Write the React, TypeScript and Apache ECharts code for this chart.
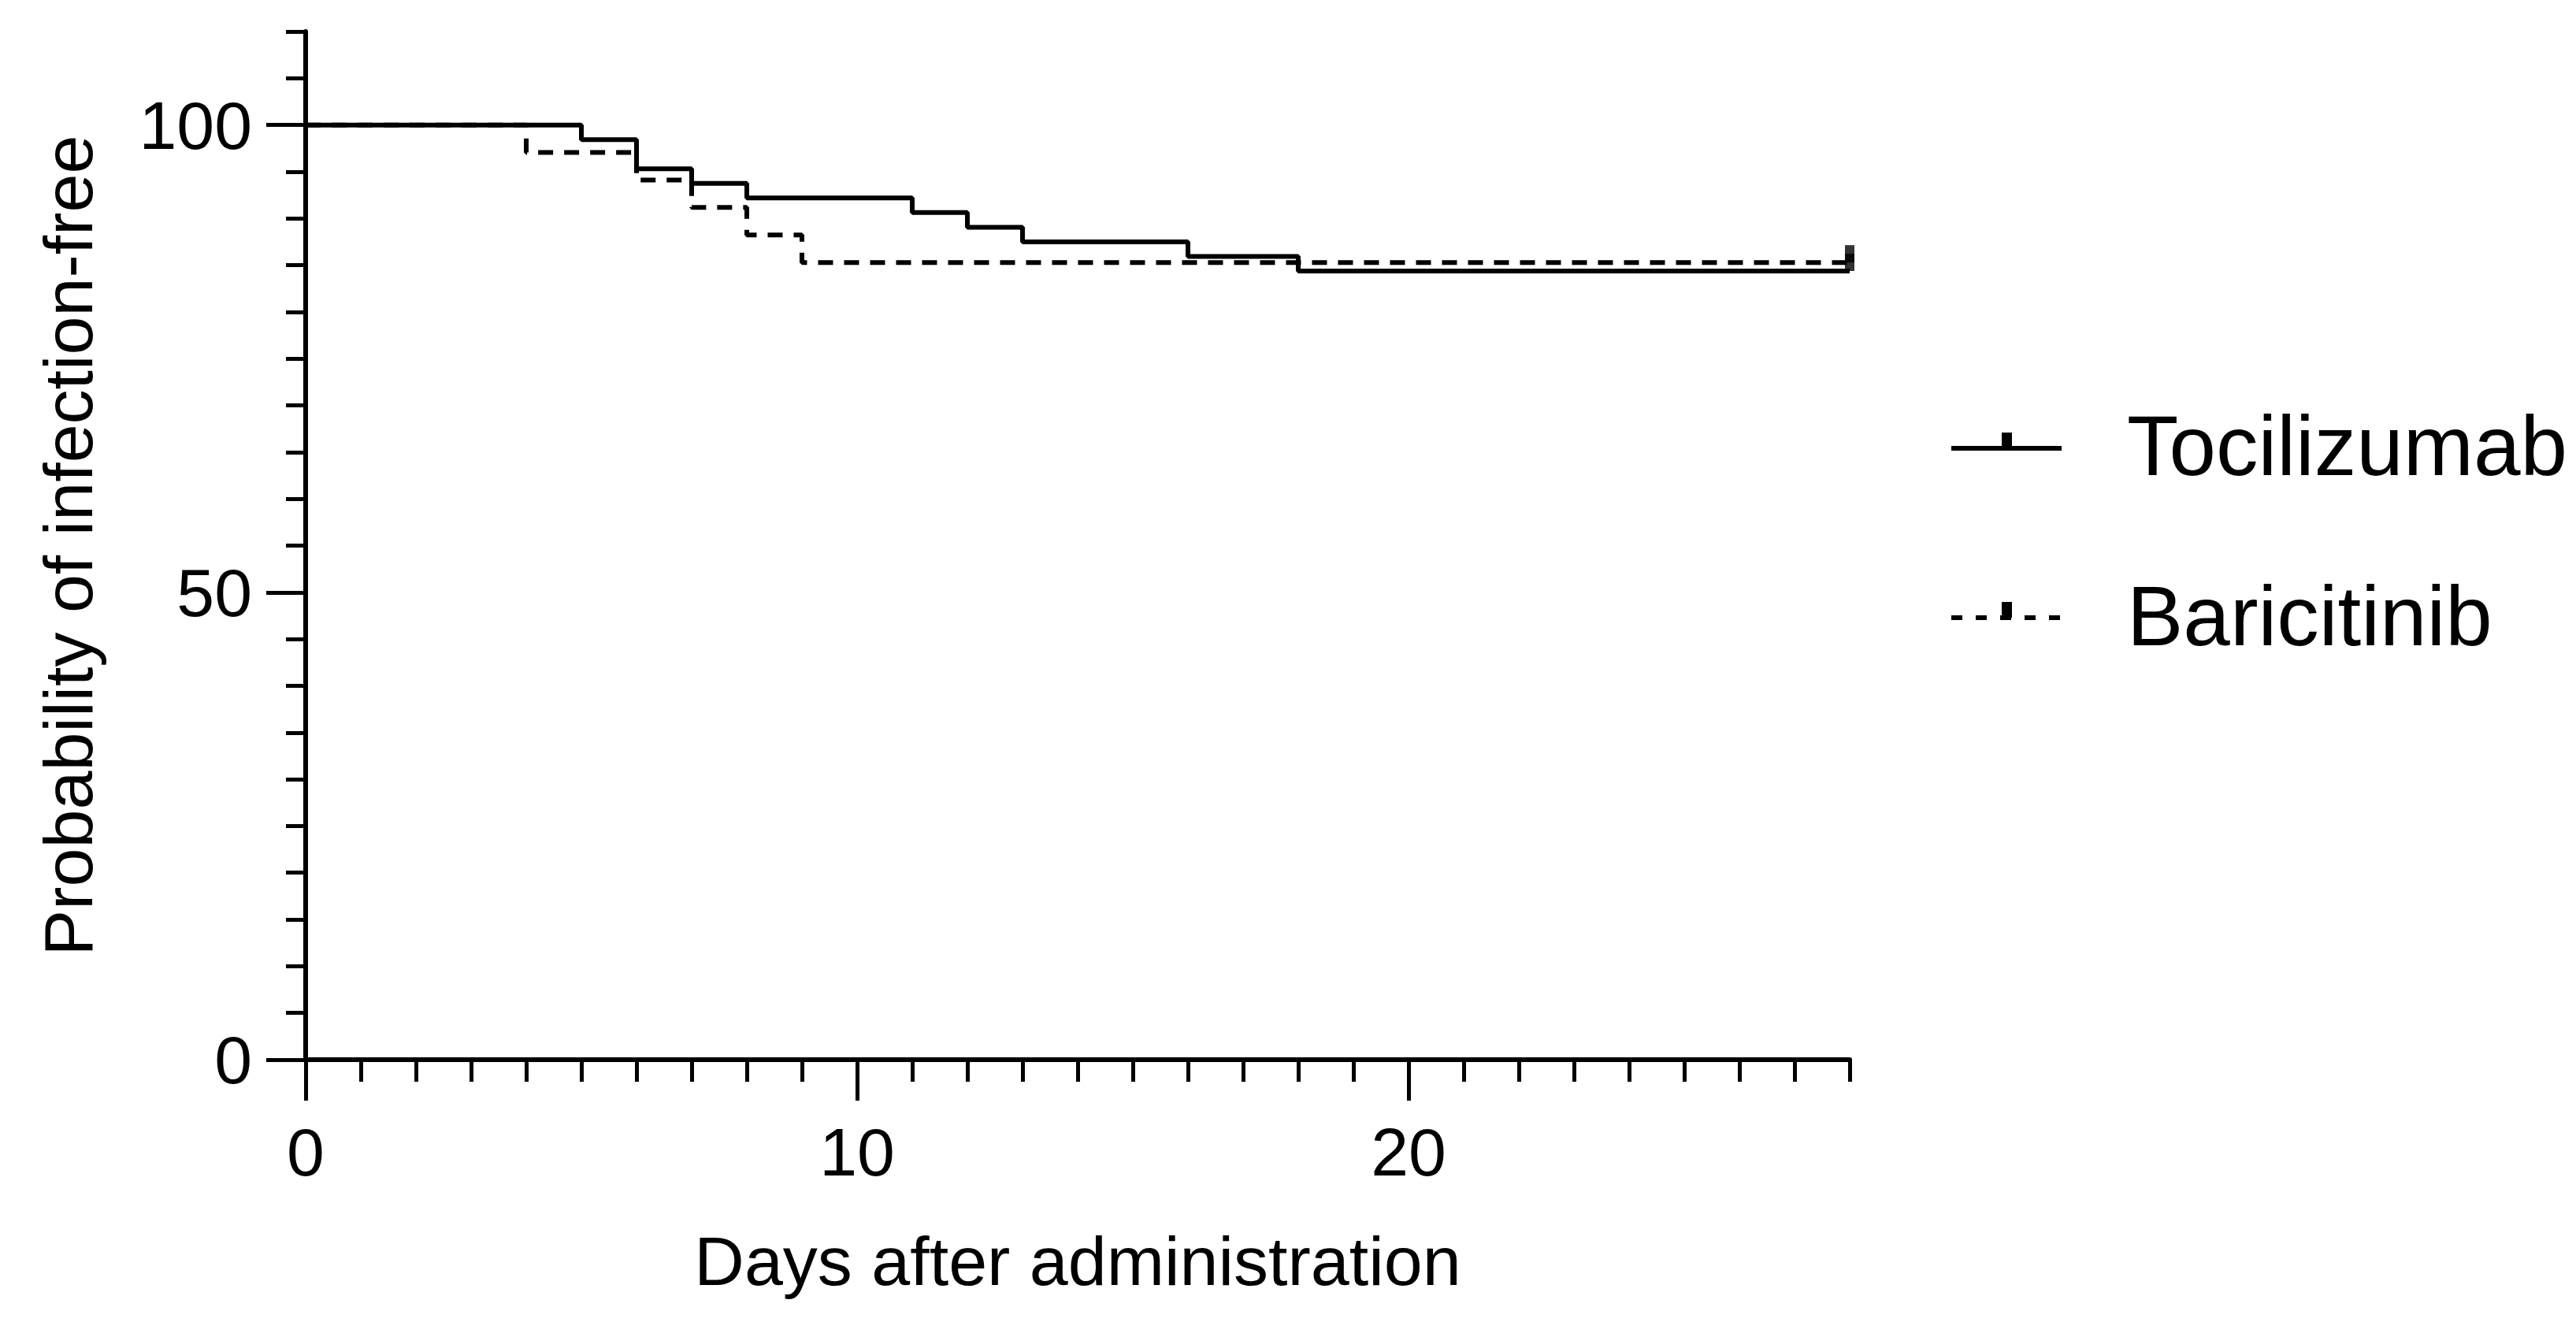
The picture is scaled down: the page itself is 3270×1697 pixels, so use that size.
import React, { useEffect, useRef } from "react";
import * as echarts from "echarts";

// Kaplan–Meier step data (day, % infection-free)
const tociDays = [0, 5, 6, 7, 8, 11, 12, 13, 16, 18, 28];
const tociSurv = [100, 98.44, 95.31, 93.75, 92.19, 90.63, 89.06, 87.5, 85.94, 84.38, 84.38];
const bariDays = [0, 4, 6, 7, 8, 9, 28];
const bariSurv = [100, 97.06, 94.12, 91.18, 88.24, 85.29, 85.29];
const tociCensorDays = [28];
const bariCensorDays = [28];

const seriesNames = ["Tocilizumab", "Baricitinib"];
const xMajorTicks = [0, 10, 20];
const yMajorTicks = [0, 50, 100];
const xTitle = "Days after administration";
const yTitle = "Probability of infection-free";

const FONT = "'Liberation Sans', Arial, Helvetica, sans-serif";

function survAt(days: number[], surv: number[], t: number) {
  let v = surv[0];
  for (let i = 0; i < days.length; i++) if (days[i] <= t) v = surv[i];
  return v;
}

function buildOption() {
  const toci = tociDays.map((d, i) => [d, tociSurv[i]]);
  const bari = bariDays.map((d, i) => [d, bariSurv[i]]);
  const tociCens = tociCensorDays.map((d) => [d, survAt(tociDays, tociSurv, d)]);
  const bariCens = bariCensorDays.map((d) => [d, survAt(bariDays, bariSurv, d)]);

  const axisLine = { show: true, onZero: false, lineStyle: { color: "#000", width: 6 } };
  const tickStyle = { color: "#000", width: 5 };

  return {
    animation: false,
    backgroundColor: "#fff",
    grid: { left: 388, right: 922, top: 40, bottom: 352, containLabel: false },
    xAxis: [
      {
        type: "value",
        min: 0,
        max: 28,
        interval: 1,
        position: "bottom",
        axisLine,
        axisTick: { show: true, length: 28, lineStyle: tickStyle },
        axisLabel: { show: false },
        splitLine: { show: false },
        name: xTitle,
        nameLocation: "middle",
        nameGap: 211,
        nameTextStyle: { fontSize: 88, color: "#000", fontFamily: FONT },
      },
      {
        type: "value",
        min: 0,
        max: 28,
        interval: 10,
        position: "bottom",
        axisLine: { show: false },
        axisTick: { show: true, length: 52, customValues: xMajorTicks, lineStyle: tickStyle },
        axisLabel: { show: true, customValues: xMajorTicks, margin: 74, fontSize: 86, color: "#000", fontFamily: FONT },
        splitLine: { show: false },
      },
    ],
    yAxis: [
      {
        type: "value",
        min: 0,
        max: 110,
        interval: 5,
        position: "left",
        axisLine,
        axisTick: { show: true, length: 25, lineStyle: tickStyle },
        axisLabel: { show: false },
        splitLine: { show: false },
        name: yTitle,
        nameLocation: "middle",
        nameGap: 258,
        nameRotate: 90,
        nameTextStyle: { fontSize: 88, color: "#000", fontFamily: FONT },
      },
      {
        type: "value",
        min: 0,
        max: 110,
        interval: 50,
        position: "left",
        axisLine: { show: false },
        axisTick: { show: true, length: 50, customValues: yMajorTicks, lineStyle: tickStyle },
        axisLabel: { show: true, customValues: yMajorTicks, margin: 68, fontSize: 86, color: "#000", fontFamily: FONT },
        splitLine: { show: false },
      },
    ],
    series: [
      {
        name: seriesNames[1],
        type: "line",
        step: "end",
        data: bari,
        showSymbol: false,
        symbol: "none",
        lineStyle: { color: "#000", width: 6, type: [19, 14] },
        z: 2,
      },
      {
        name: seriesNames[0],
        type: "line",
        step: "end",
        data: toci,
        showSymbol: false,
        symbol: "none",
        lineStyle: { color: "#000", width: 6, type: "solid" },
        z: 3,
      },
      {
        name: seriesNames[1] + " censored",
        type: "scatter",
        data: bariCens,
        symbol: "rect",
        symbolSize: [12, 22],
        symbolOffset: [0, "-50%"],
        itemStyle: { color: "#000" },
        z: 4,
      },
      {
        name: seriesNames[0] + " censored",
        type: "scatter",
        data: tociCens,
        symbol: "rect",
        symbolSize: [12, 22],
        symbolOffset: [0, "-50%"],
        itemStyle: { color: "#000" },
        z: 4,
      },
    ],
    graphic: [
      { type: "line", shape: { x1: 2477, y1: 569, x2: 2617, y2: 569 }, style: { stroke: "#000", lineWidth: 6 } },
      { type: "rect", shape: { x: 2541, y: 549, width: 13, height: 20 }, style: { fill: "#000" } },
      {
        type: "text",
        x: 2700,
        y: 566,
        style: { text: seriesNames[0], fontSize: 107, fontFamily: FONT, fill: "#000", align: "left", verticalAlign: "middle" },
      },
      {
        type: "line",
        shape: { x1: 2477, y1: 784, x2: 2617, y2: 784 },
        style: { stroke: "#000", lineWidth: 6, lineDash: [14, 17] },
      },
      { type: "rect", shape: { x: 2541, y: 764, width: 13, height: 20 }, style: { fill: "#000" } },
      {
        type: "text",
        x: 2700,
        y: 782,
        style: { text: seriesNames[1], fontSize: 107, fontFamily: FONT, fill: "#000", align: "left", verticalAlign: "middle" },
      },
    ],
  };
}

export default function App() {
  const ref = useRef<HTMLDivElement>(null);
  useEffect(() => {
    if (!ref.current) return;
    const chart = echarts.init(ref.current, null, { renderer: "svg" });
    chart.setOption(buildOption() as any);
    return () => chart.dispose();
  }, []);
  return (
    <div
      ref={ref}
      style={{ position: "fixed", left: 0, top: 0, width: "3270px", height: "1697px", background: "#fff" }}
    />
  );
}
